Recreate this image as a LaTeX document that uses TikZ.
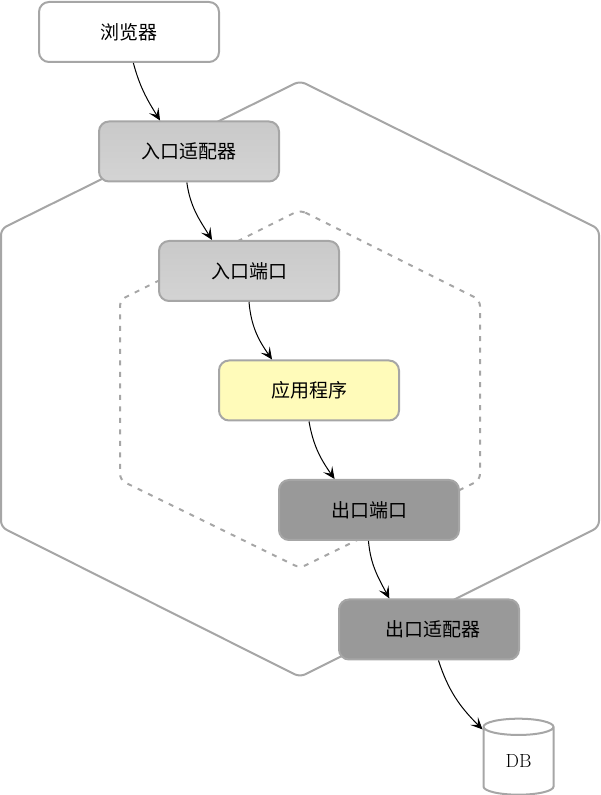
\documentclass[tikz,border=0pt]{standalone}
\usepackage{fontspec}
\newfontfamily\cjk{Noto Sans CJK SC}
\usetikzlibrary{positioning}
\usetikzlibrary{shapes.geometric,arrows.meta}
\definecolor{edgegray}{HTML}{A6A6A6}
\tikzstyle{block} = [rectangle, rounded corners=10pt, minimum width=180pt, minimum height=60pt, text centered, draw=edgegray, line width=2pt, font=\cjk\fontsize{19}{22}\selectfont]
\tikzstyle{adapterblock} = [block, top color=black!21, bottom color=black!17]
\tikzstyle{appblock} = [block, fill=yellow!27!white]
\tikzstyle{outblock} = [block, fill=black!40]
\tikzstyle{hexline} = [draw=edgegray, line width=2pt, rounded corners=6pt]
\tikzstyle{line} = [draw, line width=1pt, -{Stealth[length=12pt,width=11pt,inset=5.5pt]}]

\begin{document}
\begin{tikzpicture}[x=1pt, y=1pt]
				\useasboundingbox (0,0) rectangle (600,795);
				% Hexagons
				\draw [hexline] (300,714) -- (599,566) -- (599,268) -- (300,118) -- (1,268) -- (1,566) -- cycle;
				\draw [hexline, dashed, dash pattern=on 5pt off 6.5pt] (300,585) -- (480,495) -- (480,315) -- (300,227) -- (120,315) -- (120,495) -- cycle;
				% Place nodes
				\node [block, anchor=north west] at (38,794) (browser) {浏览器};
				\node [adapterblock, below right = 57.5pt and -122pt of browser] (inadapter) {入口适配器};
				\node [adapterblock, below right = 57.5pt and -122pt of inadapter] (inport) {入口端口};
				\node [appblock, below right = 57.5pt and -122pt of inport] (app) {应用程序};
				\node [outblock, below right = 57.5pt and -122pt of app] (outport) {出口端口};
				\node [outblock, below right = 57.5pt and -122pt of outport] (outadapter) {\hspace*{8pt}出口适配器};
				\node [cylinder, shape border rotate=90, aspect=0.5, draw=edgegray, line width=2pt, fill=white, minimum width=70pt, minimum height=76pt, font=\fontsize{19}{22}\selectfont] at (518.5,32) (db) {\raisebox{4pt}{DB}};
				% Arrows
				\path [line] (browser.-82) to [out=-75, in=122] (inadapter.133);
				\path [line] (inadapter.-94) to [out=-82, in=122] (inport.140);
				\path [line] (inport.-90) to [out=-85, in=125] (app.140);
				\path [line] (app.-90) to [out=-80, in=125] (outport.138);
				\path [line] (outport.-91) to [out=-85, in=118] (outadapter.142);
				\path [line] (outadapter.-73) to [out=-72, in=135] (db.137);
\end{tikzpicture}
\end{document}
